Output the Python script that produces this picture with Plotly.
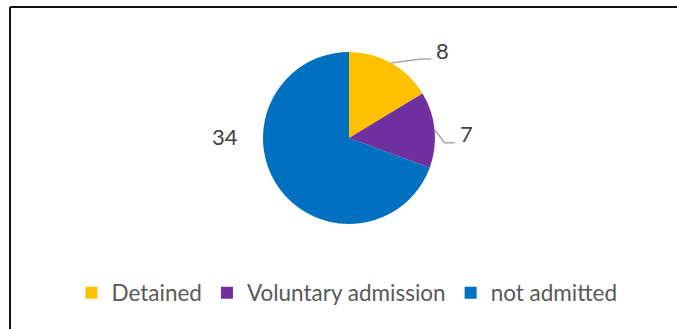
import math
import plotly.graph_objects as go

# Admission outcomes
categories = ["Detained", "Voluntary admission", "not admitted"]
counts = [8, 7, 34]
colors = ["#FFC000", "#7030A0", "#0070C0"]

W, H = 677, 329
# pie geometry in pixels
CX, CY, R = 349, 138, 86

def px(x):
    return x / W

def py(y):
    return 1 - y / H

fig = go.Figure(go.Pie(
    labels=categories,
    values=counts,
    sort=False,
    direction="clockwise",
    rotation=0,
    textinfo="none",
    hoverinfo="label+value",
    marker=dict(colors=colors, line=dict(color="white", width=0)),
    domain=dict(x=[px(CX - R), px(CX + R)], y=[py(CY + R), py(CY - R)]),
))

# data labels: leader line from slice mid-angle on the rim, elbow, then text
# per-slice label placement (elbow dx, dy; horizontal run) in pixels, None = no leader
label_style = [(30, -4, 10), (10, 13, 10), None]
free_label_pos = [None, None, (225, 137)]

label_font = dict(family="Lato, Arial, sans-serif", size=22, color="#404040")

total = sum(counts)
start = 0.0
shapes = []
annotations = []
for i, v in enumerate(counts):
    frac = v / total
    mid = (start + frac / 2) * 2 * math.pi
    start += frac
    ax = CX + R * math.sin(mid)
    ay = CY - R * math.cos(mid)
    st = label_style[i]
    if st is not None:
        dx, dy, run = st
        ex, ey = ax + dx, ay + dy
        tx = ex + run
        shapes.append(dict(
            type="path", xref="paper", yref="paper",
            path=f"M{px(ax)},{py(ay)} L{px(ex)},{py(ey)} L{px(tx)},{py(ey)}",
            line=dict(color="#A6A6A6", width=1.5),
        ))
        annotations.append(dict(
            x=px(tx + 3), y=py(ey - 9), xref="paper", yref="paper",
            text=str(v), showarrow=False, xanchor="left", yanchor="middle",
            font=label_font,
        ))
    else:
        lx, ly = free_label_pos[i]
        annotations.append(dict(
            x=px(lx), y=py(ly), xref="paper", yref="paper",
            text=str(v), showarrow=False, xanchor="center", yanchor="middle",
            font=label_font,
        ))

# chart frame (top and left edges visible)
shapes.append(dict(type="line", xref="paper", yref="paper",
                   x0=px(10), y0=py(7), x1=px(W + 20), y1=py(7),
                   line=dict(color="#111111", width=2)))
shapes.append(dict(type="line", xref="paper", yref="paper",
                   x0=px(10), y0=py(7), x1=px(10), y1=py(H + 20),
                   line=dict(color="#111111", width=2)))

fig.update_layout(
    width=W, height=H,
    margin=dict(l=0, r=0, t=0, b=0),
    paper_bgcolor="white",
    plot_bgcolor="white",
    shapes=shapes,
    annotations=annotations,
    showlegend=True,
    legend=dict(
        orientation="h",
        x=px(347), xanchor="center",
        y=py(293), yanchor="middle",
        font=dict(family="Lato, Arial, sans-serif", size=22.5, color="#595959"),
        itemsizing="constant",
        bgcolor="rgba(0,0,0,0)",
    ),
)

fig.write_html("out.html")
